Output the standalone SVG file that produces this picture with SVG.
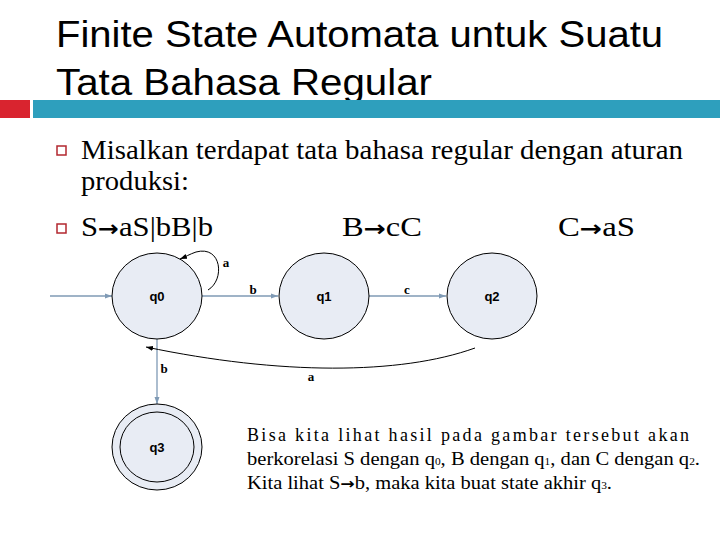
<svg xmlns="http://www.w3.org/2000/svg" width="720" height="540" viewBox="0 0 720 540">
<style>
.t{font-family:"Liberation Sans",Arial,sans-serif;font-size:36px;fill:#000}
.b{font-family:"Liberation Serif","Times New Roman",serif;font-size:27px;fill:#000}
.st{fill:#e8ecf4;stroke:#000;stroke-width:1}
.lbl{font-family:"Liberation Sans",Arial,sans-serif;font-size:13px;font-weight:bold;text-anchor:middle}
.el{font-family:"Liberation Serif",serif;font-size:13px;font-weight:bold;text-anchor:middle}
.e{stroke:#7f9ab5;stroke-width:1.3;fill:none}
.d{stroke:#000;stroke-width:1;fill:none}
.p{font-family:"Liberation Serif","Times New Roman",serif;font-size:18px}
</style>
<defs>
<marker id="ab" markerWidth="8" markerHeight="8" refX="7" refY="4" orient="auto" markerUnits="userSpaceOnUse"><path d="M0,1.5 L7,4 L0,6.5z" fill="#7f9ab5"/></marker>
<marker id="ak" markerWidth="8" markerHeight="8" refX="7" refY="4" orient="auto" markerUnits="userSpaceOnUse"><path d="M0,1.5 L7,4 L0,6.5z" fill="#000"/></marker>
</defs>
<rect width="720" height="540" fill="#fff"/>
<text class="t" x="56" y="47" textLength="607" lengthAdjust="spacingAndGlyphs">Finite State Automata untuk Suatu</text>
<text class="t" x="56" y="95" textLength="376" lengthAdjust="spacingAndGlyphs">Tata Bahasa Regular</text>
<rect x="0" y="100" width="30" height="18" fill="#d9242f"/>
<rect x="33" y="100" width="687" height="18" fill="#2e9fbd"/>
<rect x="57" y="146" width="9" height="9" fill="none" stroke="#b3272f" stroke-width="1.5"/>
<text class="b" x="81" y="159" textLength="602" lengthAdjust="spacingAndGlyphs">Misalkan terdapat tata bahasa regular dengan aturan</text>
<text class="b" x="81" y="190" textLength="108" lengthAdjust="spacingAndGlyphs">produksi:</text>
<rect x="57" y="224" width="9" height="9" fill="none" stroke="#b3272f" stroke-width="1.5"/>
<text class="b" x="81" y="236" textLength="132" lengthAdjust="spacingAndGlyphs">S<tspan font-family="DejaVu Sans" font-size="22" font-weight="bold">→</tspan>aS|bB|b</text>
<text class="b" x="342" y="236" textLength="80" lengthAdjust="spacingAndGlyphs">B<tspan font-family="DejaVu Sans" font-size="22" font-weight="bold">→</tspan>cC</text>
<text class="b" x="558" y="236" textLength="77" lengthAdjust="spacingAndGlyphs">C<tspan font-family="DejaVu Sans" font-size="22" font-weight="bold">→</tspan>aS</text>
<g id="edges">
<line class="e" x1="50" y1="296" x2="112" y2="296" marker-end="url(#ab)"/>
<line class="e" x1="202" y1="296" x2="278" y2="296" marker-end="url(#ab)"/>
<line class="e" x1="369" y1="296" x2="446" y2="296" marker-end="url(#ab)"/>
<line class="e" x1="157" y1="339" x2="157" y2="404" marker-end="url(#ab)"/>
<path class="d" d="M208,290 C225,280 222,245 196,252 C190,254 185,257 180,259" marker-end="url(#ak)"/>
<path class="d" d="M475,348 C400,375 280,375 146,347" marker-end="url(#ak)"/>
<text class="el" x="226" y="267">a</text>
<text class="el" x="253" y="294">b</text>
<text class="el" x="407" y="294">c</text>
<text class="el" x="164" y="373">b</text>
<text class="el" x="311" y="381">a</text>
</g>
<g id="q0"><ellipse class="st" cx="157" cy="296" rx="45" ry="43"/><text class="lbl" x="157" y="301">q0</text></g>
<g id="q1"><ellipse class="st" cx="324" cy="296" rx="45" ry="43"/><text class="lbl" x="324" y="301">q1</text></g>
<g id="q2"><ellipse class="st" cx="492" cy="296" rx="45" ry="43"/><text class="lbl" x="492" y="301">q2</text></g>
<g id="q3"><ellipse class="st" cx="157" cy="447" rx="45" ry="43"/><ellipse class="st" cx="157" cy="447" rx="37" ry="35"/><text class="lbl" x="157" y="452">q3</text></g>
<text class="p" x="247" y="441" textLength="442" lengthAdjust="spacing">Bisa kita lihat hasil pada gambar tersebut akan</text>
<text class="p" x="247" y="465" textLength="453" lengthAdjust="spacingAndGlyphs">berkorelasi S dengan q<tspan font-size="10">0</tspan>, B dengan q<tspan font-size="10">1</tspan>, dan C dengan q<tspan font-size="10">2</tspan>.</text>
<text class="p" x="247" y="489" textLength="365" lengthAdjust="spacingAndGlyphs">Kita lihat S<tspan font-family="DejaVu Sans" font-size="15" font-weight="bold">→</tspan>b, maka kita buat state akhir q<tspan font-size="10">3</tspan>.</text>
</svg>
